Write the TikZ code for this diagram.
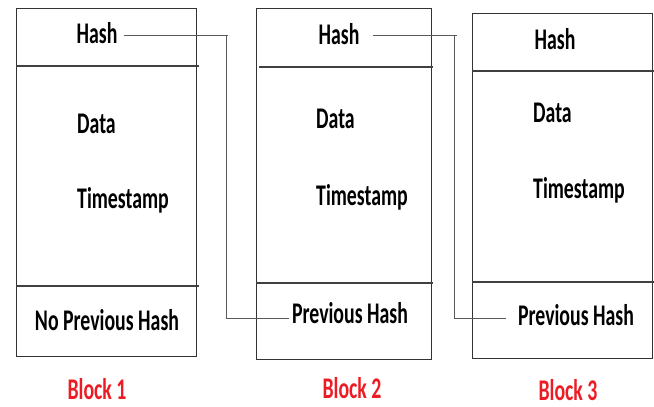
\documentclass[tikz,border=0pt]{standalone}
\usepackage{fontspec}
\newfontfamily\blockfont[FakeStretch=0.66]{Carlito}
\definecolor{blockred}{RGB}{237,28,36}
\tikzset{
  lbl/.style={font=\blockfont\bfseries\fontsize{30}{36}\selectfont, inner sep=0pt},
  tag/.style={lbl, text=blockred},
  frame/.style={draw=black!80, line width=1pt},
  divider/.style={draw=black!75, line width=1.4pt},
  link/.style={draw=black!65, line width=0.9pt}
}

\begin{document}
\begin{tikzpicture}[x=1pt,y=-1pt]
\useasboundingbox (0,0) rectangle (654,407);
% block frames
\draw[frame] (16,8) rectangle (196,356);
\draw[frame] (256,8) rectangle (431,359);
\draw[frame] (472,13) rectangle (652,358);
\draw[divider] (16,66)--(199,66);
\draw[divider] (16,286)--(199,286);
\draw[divider] (259,67)--(433,67);
\draw[divider] (256,283)--(433,283);
\draw[divider] (472,71)--(654,71);
\draw[divider] (472,282)--(654,282);
% block 1
\node[lbl,anchor=base] (h1) at (97,43) {Hash};
\node[lbl,anchor=base west] (d1) at (77,133) {Data};
\node[lbl,anchor=base west] (s1) at (77,208) {Timestamp};
\node[lbl,anchor=base] (p1) at (107,330) {No Previous Hash};
\node[tag,anchor=base] (b1) at (97,399) {Block 1};
% block 2
\node[lbl,anchor=base] (h2) at (339,44) {Hash};
\node[lbl,anchor=base west] (d2) at (316,128) {Data};
\node[lbl,anchor=base west] (s2) at (316,205) {Timestamp};
\node[lbl,anchor=base] (p2) at (350,323) {Previous Hash};
\node[tag,anchor=base] (b2) at (352,398) {Block 2};
% block 3
\node[lbl,anchor=base] (h3) at (555,49) {Hash};
\node[lbl,anchor=base west] (d3) at (533,122) {Data};
\node[lbl,anchor=base west] (s3) at (533,198) {Timestamp};
\node[lbl,anchor=base] (p3) at (576,325) {Previous Hash};
\node[tag,anchor=base] (b3) at (568,400) {Block 3};
% hash links
\coordinate (t1) at (228,35);
\coordinate (c1) at (226,318);
\coordinate (t2) at (457,35);
\coordinate (c2) at (454,318);
\draw[link] ([xshift=6pt]h1.east |- t1) -- (t1);
\draw[link] (t1 -| c1) -- (c1) -- ([xshift=-3pt]p2.west |- c1);
\draw[link] ([xshift=13pt]h2.east |- t2) -- (t2);
\draw[link] (t2 -| c2) -- (c2) -- ([xshift=-12pt]p3.west |- c2);
\end{tikzpicture}
\end{document}
